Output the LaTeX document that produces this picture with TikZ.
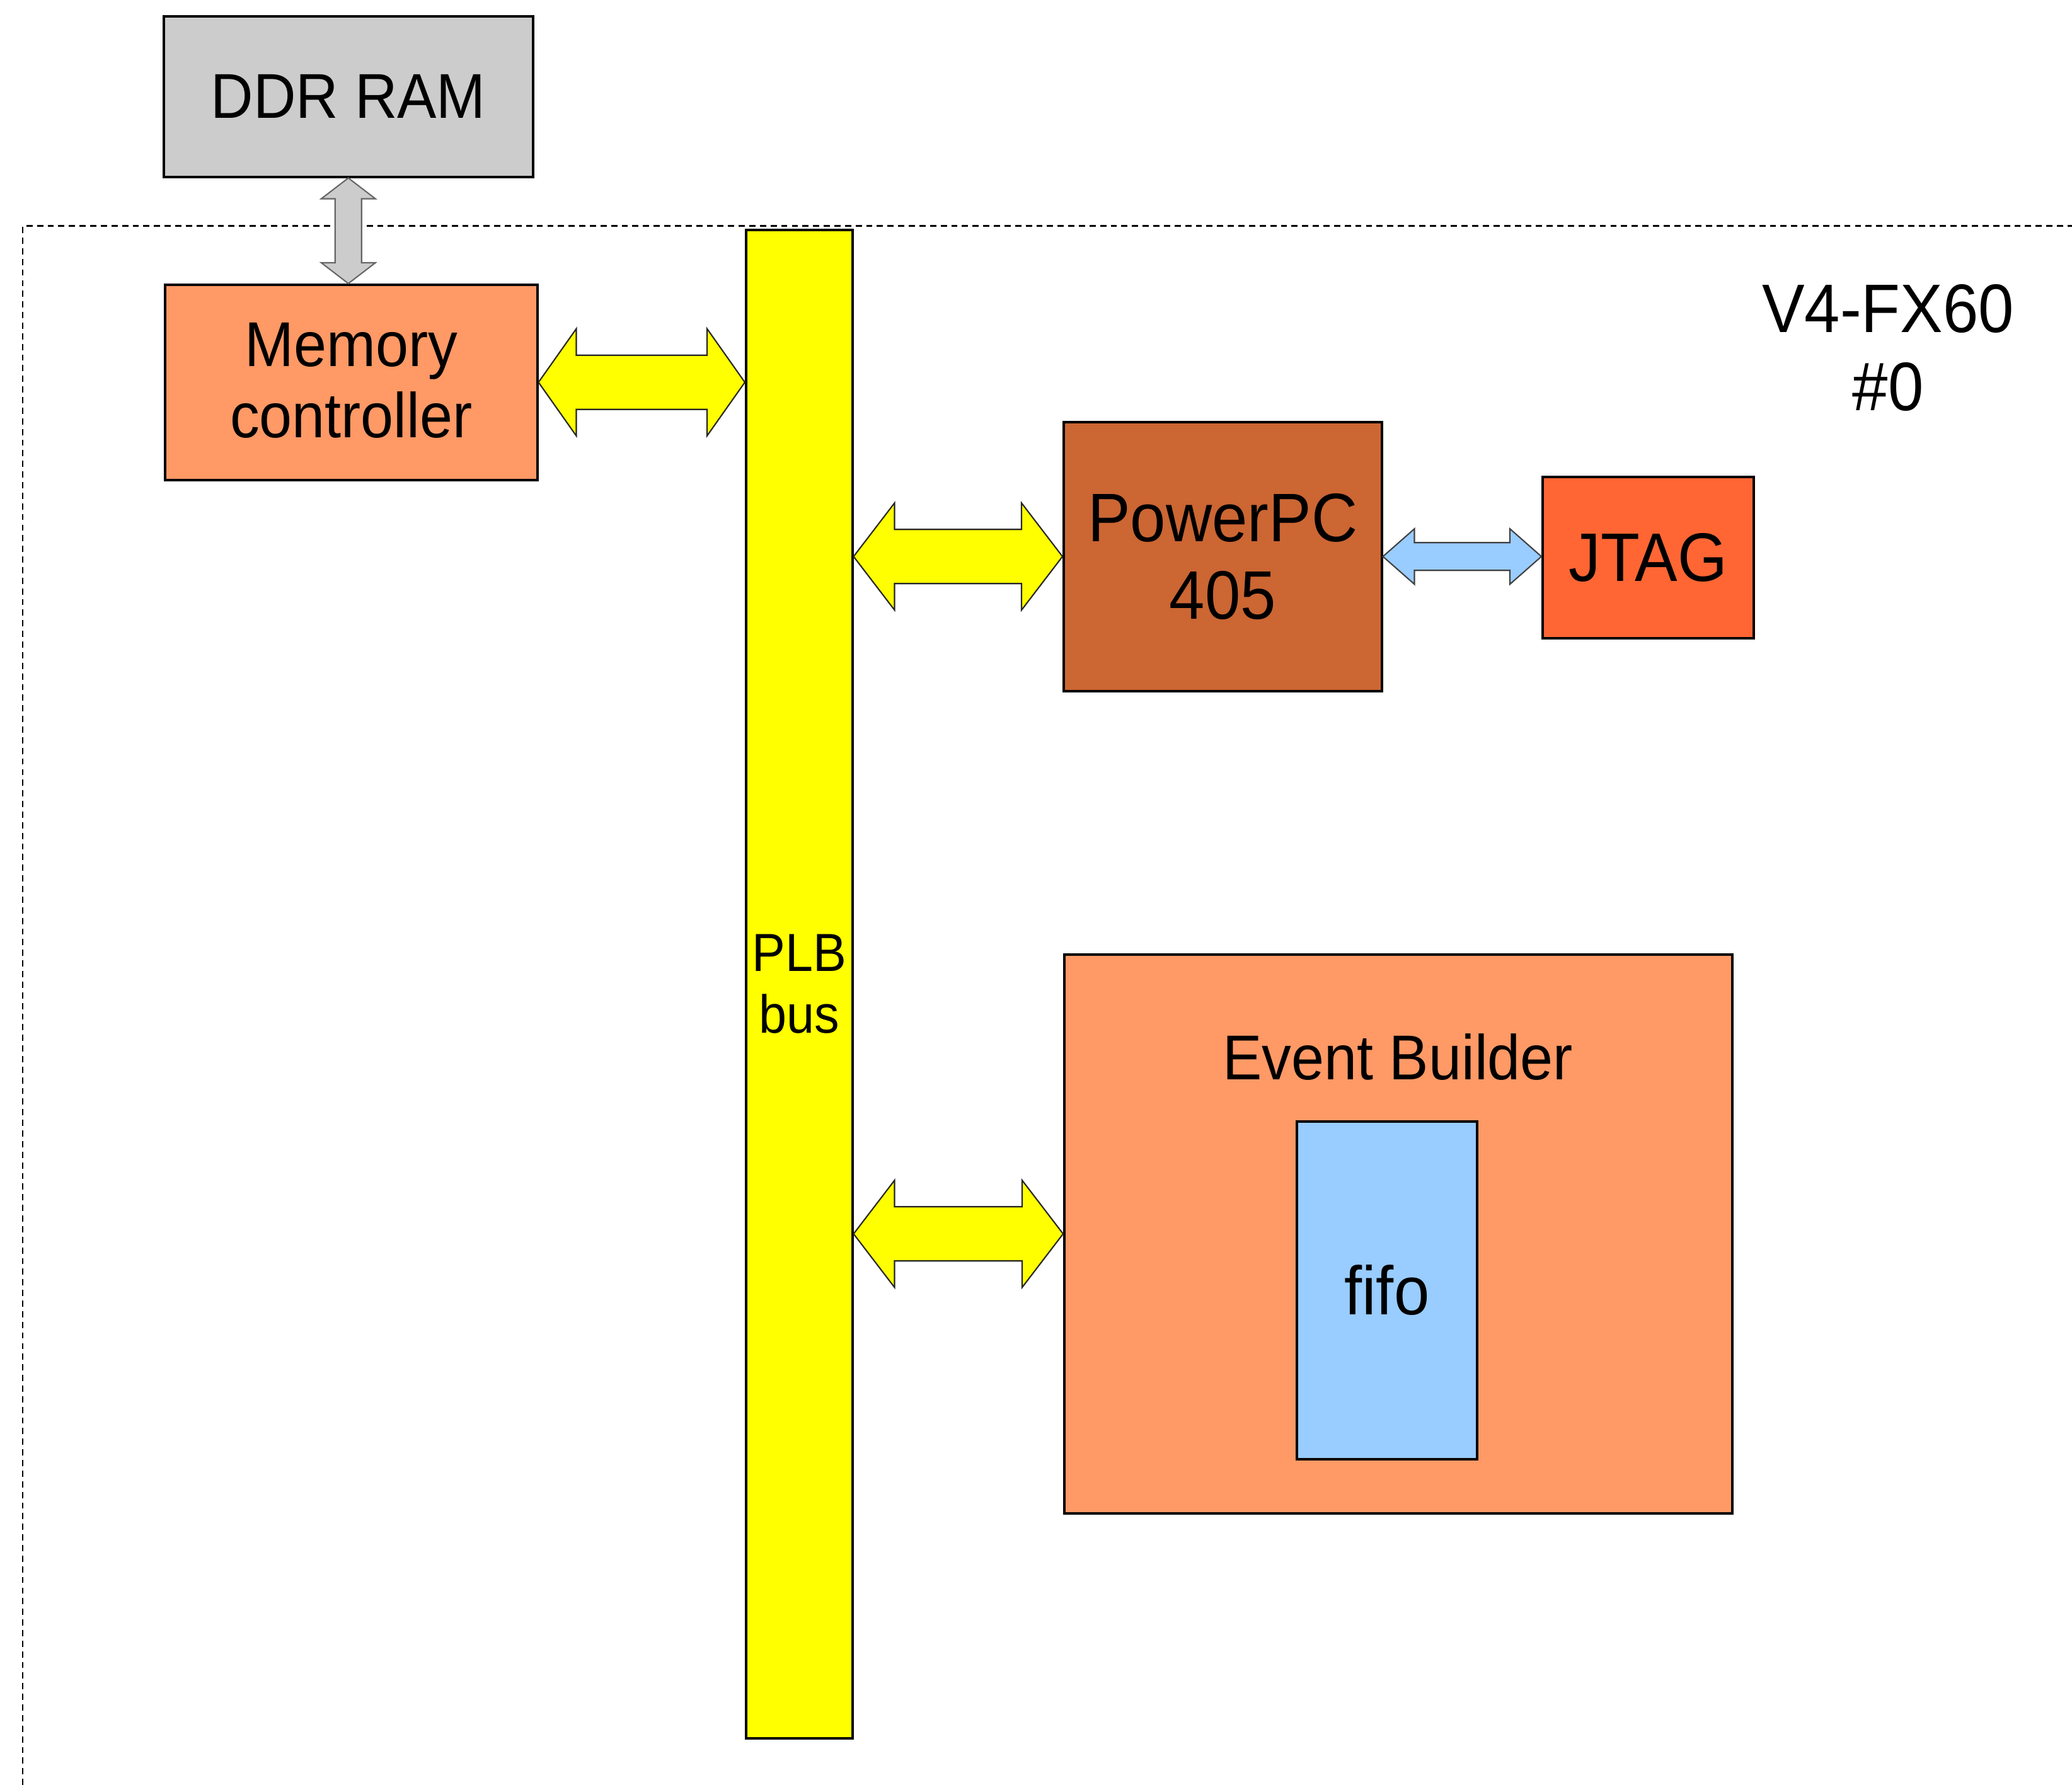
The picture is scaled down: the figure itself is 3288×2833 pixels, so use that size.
\documentclass[tikz,border=0pt]{standalone}
\usepackage{fontspec}
\setmainfont{Liberation Sans}[FakeStretch=0.93]
\usetikzlibrary{calc}

\definecolor{ramgray}{HTML}{CCCCCC}
\definecolor{salmon}{HTML}{FF9966}
\definecolor{busyellow}{HTML}{FFFF00}
\definecolor{cpubrown}{HTML}{CC6633}
\definecolor{jtagorange}{HTML}{FF6633}
\definecolor{fifoblue}{HTML}{99CCFF}

\tikzset{
  block/.style={draw, line width=1pt, inner sep=0pt, align=center, anchor=north west},
  bigfont/.style={font=\fontsize{31}{35}\selectfont},
  midfont/.style={font=\fontsize{28.6}{32.1}\selectfont},
  smallfont/.style={font=\fontsize{24.2}{27.9}\selectfont},
  busline/.style={fill=busyellow, draw=black!85, line width=0.6pt},
}

% double headed block arrow: style, from, to, shaft half, head half, head length
\newcommand{\busarrow}[6]{%
  \draw [#1]
    let \p1=($(#3)-(#2)$), \n1={veclen(\x1,\y1)}, \n2={atan2(\y1,\x1)} in
    [shift={(#2)}, rotate=\n2]
    (0,0) -- (#6,#5) -- (#6,#4) -- (\n1-#6,#4) -- (\n1-#6,#5)
    -- (\n1,0)
    -- (\n1-#6,-#5) -- (\n1-#6,-#4) -- (#6,-#4) -- (#6,-#5)
    -- cycle
  ;
}

\begin{document}
\begin{tikzpicture}[x=0.1mm, y=-0.1mm]
  \useasboundingbox (0,0) rectangle (3288,2833);

  % FPGA border
  \draw
    [line width=0.85pt, dash pattern=on 2.8pt off 2pt]
    (36,2833) -- (36,359) -- (3288,359)
  ;
  \node (fpga label) [bigfont, align=center] at (2996,552) {V4-FX60\\\#0};

  \node (ddr) [block, fill=ramgray, midfont, minimum width=58.6mm, minimum height=25.5mm]
    at (258,24) {DDR RAM};
  \node (mc) [block, fill=salmon, midfont, minimum width=59.1mm, minimum height=31mm]
    at (260,450) {Memory\\controller\rule{0pt}{0pt}\vspace*{0.6mm}};
  \node (plb) [block, fill=busyellow, smallfont, minimum width=16.9mm, minimum height=239.4mm]
    at (1182,363) {PLB\\bus};
  \node (ppc) [block, fill=cpubrown, bigfont, minimum width=50.5mm, minimum height=42.7mm]
    at (1686,668) {PowerPC\\405};
  \node (jtag) [block, fill=jtagorange, bigfont, minimum width=33.5mm, minimum height=25.6mm]
    at (2446,755) {JTAG};
  \node (eb) [block, fill=salmon, minimum width=106mm, minimum height=88.7mm]
    at (1687,1513) {};
  \node (eb label) [midfont] at (2218,1678) {Event Builder};
  \node (fifo) [block, fill=fifoblue, bigfont, minimum width=28.6mm, minimum height=53.6mm]
    at (2056,1778) {fifo};

  % links
  \busarrow{fill=ramgray, draw=black!60, line width=0.6pt}{ddr.south}{ddr.south |- mc.north}{2.1mm}{4.3mm}{3.3mm}
  \busarrow{busline}{mc.east}{mc.east -| plb.west}{4.3mm}{8.5mm}{6mm}
  \busarrow{busline}{plb.east |- ppc.west}{ppc.west}{4.3mm}{8.5mm}{6.5mm}
  \busarrow{busline}{plb.east |- eb.west}{eb.west}{4.3mm}{8.5mm}{6.5mm}
  \busarrow{fill=fifoblue, draw=black!75, line width=0.6pt}{ppc.east}{ppc.east -| jtag.west}{2.2mm}{4.4mm}{5mm}
\end{tikzpicture}
\end{document}
